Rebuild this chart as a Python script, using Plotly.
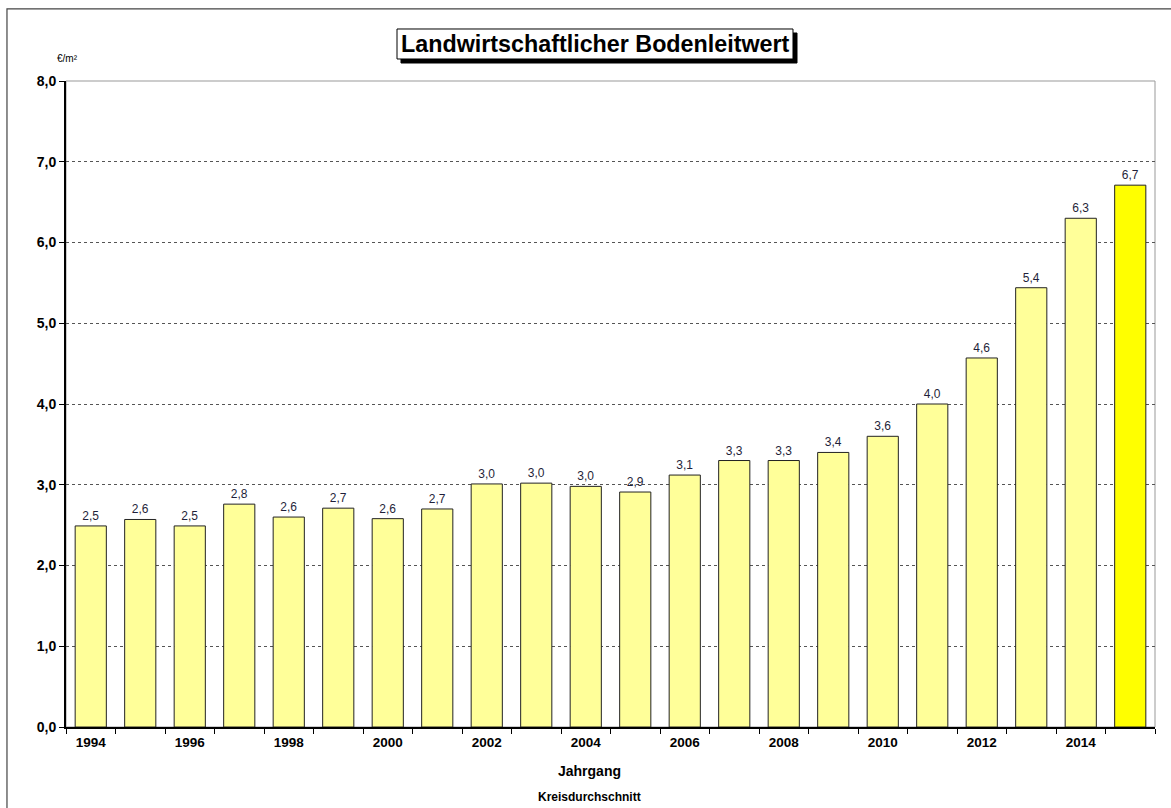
import plotly.graph_objects as go

# Kreisdurchschnitt des landwirtschaftlichen Bodenleitwerts, €/m²
years = [str(y) for y in range(1994, 2016)]
values = [2.49, 2.57, 2.49, 2.76, 2.60, 2.71, 2.58, 2.70, 3.01, 3.02, 2.98,
          2.91, 3.12, 3.30, 3.30, 3.40, 3.60, 4.00, 4.57, 5.44, 6.30, 6.71]
tick_labels = [y if int(y) % 2 == 0 else "" for y in years]
value_labels = [f"{v:.1f}".replace(".", ",") for v in values]

FONT = "Liberation Sans, Arial, sans-serif"

bar_colors = ["#FFFF99"] * (len(years) - 1) + ["#FFFF00"]

fig = go.Figure(
    go.Bar(
        x=years,
        y=values,
        text=value_labels,
        textposition="outside",
        cliponaxis=False,
        textfont=dict(family=FONT, size=12, color="#1f1f3a"),
        marker=dict(color=bar_colors, line=dict(color="#222222", width=1)),
        width=0.63,
        hoverinfo="x+y",
    )
)

fig.update_layout(
    width=1171,
    height=808,
    margin=dict(l=66, r=16, t=81, b=81),
    paper_bgcolor="white",
    plot_bgcolor="white",
    separators=",.",
    showlegend=False,
    font=dict(family=FONT, color="black"),
    shapes=[
        # outer frame of the chart
        dict(type="rect", xref="paper", yref="paper",
             x0=-0.0542, x1=1.2, y0=-0.5, y1=1.1115,
             line=dict(color="#444444", width=1.2), layer="below"),
        # plot area frame
        dict(type="rect", xref="paper", yref="paper",
             x0=0, x1=1, y0=0, y1=1,
             line=dict(color="#999999", width=1), layer="below"),
        # title box shadow
        dict(type="rect", xref="paper", yref="paper",
             x0=0.30762, x1=0.67126, y0=1.02786, y1=1.07430,
             fillcolor="black", line=dict(color="black", width=1), layer="below"),
        # title box
        dict(type="rect", xref="paper", yref="paper",
             x0=0.30395, x1=0.66758, y0=1.03406, y1=1.08050,
             fillcolor="white", line=dict(color="black", width=1), layer="below"),
    ],
    annotations=[
        dict(text="<b>Landwirtschaftlicher Bodenleitwert</b>", xref="paper", yref="paper",
             x=0.48577, y=1.05728, xanchor="center", yanchor="middle",
             showarrow=False,
             font=dict(family=FONT, size=23.3, color="black")),
        dict(text="€/m²", xref="paper", yref="paper", x=0.0, y=1.035,
             xanchor="center", yanchor="middle", showarrow=False,
             font=dict(family=FONT, size=10, color="black"), xshift=1),
        dict(text="<b>Jahrgang</b>", xref="paper", yref="paper", x=0.4807, y=-0.068,
             xanchor="center", yanchor="middle", showarrow=False,
             font=dict(family=FONT, size=14, color="black")),
        dict(text="<b>Kreisdurchschnitt</b>", xref="paper", yref="paper", x=0.4807, y=-0.108,
             xanchor="center", yanchor="middle", showarrow=False,
             font=dict(family=FONT, size=12, color="black")),
    ],
)

fig.update_xaxes(
    type="category",
    tickmode="array",
    tickvals=years,
    ticktext=tick_labels,
    tickson="boundaries",
    ticks="outside",
    ticklen=5,
    tickcolor="black",
    ticklabelstandoff=2,
    tickfont=dict(family=FONT, size=13.5, color="black", weight="bold"),
    showline=True,
    linecolor="black",
    linewidth=2,
    showgrid=False,
    zeroline=False,
    fixedrange=True,
)

fig.update_yaxes(
    range=[0, 8],
    dtick=1,
    tickformat=".1f",
    ticks="outside",
    ticklen=5,
    tickcolor="black",
    tickfont=dict(family=FONT, size=14, color="black", weight="bold"),
    showline=True,
    linecolor="black",
    linewidth=2,
    showgrid=True,
    gridcolor="#555555",
    gridwidth=1,
    griddash="dot",
    zeroline=False,
    fixedrange=True,
)

fig.write_html("out.html")
